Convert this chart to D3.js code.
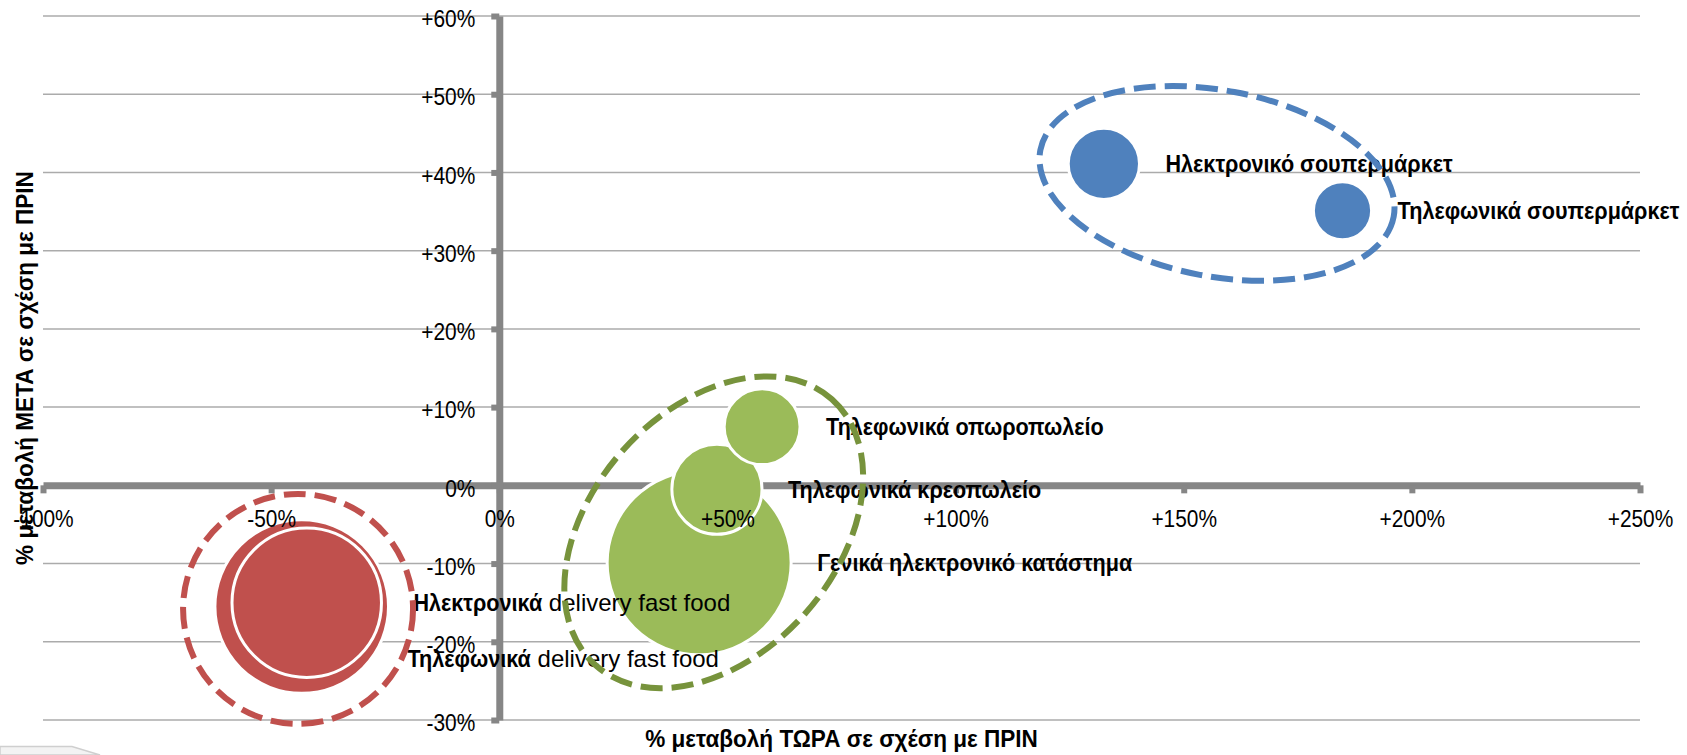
<!DOCTYPE html>
<html>
<head>
<meta charset="utf-8">
<script src="https://cdn.jsdelivr.net/npm/d3@7"></script>
<style>
  body { margin: 0; background: #fff; }
  svg text { font-family: "Liberation Sans", Arial, sans-serif; fill: #000; white-space: pre; }
</style>
</head>
<body>
<svg id="chart" width="1687" height="755"></svg>
<script>
// bubbles: % change NOW vs BEFORE (x), % change AFTER vs BEFORE (y), bubble size
let names = ["Ηλεκτρονικό σουπερμάρκετ", "Τηλεφωνικά σουπερμάρκετ", "Τηλεφωνικά οπωροπωλείο",
  "Τηλεφωνικά κρεοπωλείο", "Γενικά ηλεκτρονικό κατάστημα", "Τηλεφωνικά delivery fast food",
  "Ηλεκτρονικά delivery fast food"];
let xVals = [132.5, 184.8, 57.6, 47.7, 43.8, -43.3, -42.2];
let yVals = [41.1, 35.1, 7.5, -0.5, -9.9, -15.5, -15.0];
let sizes = [15, 10, 17, 24, 100, 89, 66];
let groups = ["blue", "blue", "green", "green", "green", "red", "red"];

// dashed rings round each group (centre in data units, semi axes in x units)
let ringGroups = ["blue", "green", "red"];
let ringX = [157.3, 47.0, -44.1];
let ringY = [38.6, -6.0, -15.8];
let ringA = [39.4, 39.0, 25.2];
let ringB = [20.4, 26.8, 25.2];
let ringTilt = [10.7, -48.4, 0];

let xTicks = [-100, -50, 0, 50, 100, 150, 200, 250];
let yTicks = [-30, -20, -10, 0, 10, 20, 30, 40, 50, 60];

let xTitle = "% μεταβολή ΤΩΡΑ σε σχέση με ΠΡΙΝ";
let yTitle = "% μεταβολή ΜΕΤΑ σε σχέση με ΠΡΙΝ";

// label nudges for the two delivery labels, moved by hand in the original
let labelShiftX = [0, 0, 0, 0, 0, -7, 6];
let labelShiftY = [0, 0, 0, 0, 0, 52, 0];

let fillColor = {blue: "#4F81BD", green: "#9BBB59", red: "#C0504D"};
let ringColor = {blue: "#4F81BD", green: "#77933C", red: "#C0504D"};
let axisColor = "#868686", gridColor = "#ababab";
// the original uses a narrow face; squeeze the wide one instead
let tickSqueeze = 0.87, labelSqueeze = 0.9, titleSqueeze = 0.94;

let svg = d3.select("#chart");

let x = d3.scaleLinear().domain([-100, 250]).range([43, 1640]);
let y = d3.scaleLinear().domain([-30, 60]).range([720, 16]);
let r = d3.scaleSqrt().domain([0, 100]).range([0, 92]);

let pct = d => (d > 0 ? "+" : "") + d + "%";

// faint tab in the lower left corner of the screenshot
svg.append("path")
  .attr("d", "M0,746.5 L72,746.5 L100,755 L0,755 Z")
  .attr("fill", "#f3f3f3")
  .attr("stroke", "#cfcfcf")
  .attr("stroke-width", 1.5);

// grid
svg.append("g").selectAll("line")
  .data(yTicks.filter(t => t !== 0))
  .enter().append("line")
  .attr("x1", x(-100)).attr("x2", x(250))
  .attr("y1", d => y(d)).attr("y2", d => y(d))
  .attr("stroke", gridColor)
  .attr("stroke-width", 1.5);

// axis lines and tick marks (under the bubbles)
let xAxisLines = svg.append("g")
  .attr("transform", `translate(0, ${y(0)})`)
  .call(d3.axisBottom(x).tickValues(xTicks).tickSize(8).tickSizeOuter(0).tickFormat(""));
let yAxisLines = svg.append("g")
  .attr("transform", `translate(${x(0)}, 0)`)
  .call(d3.axisLeft(y).tickValues(yTicks).tickSize(8).tickSizeOuter(0).tickFormat(""));
[xAxisLines, yAxisLines].forEach(g => {
  g.select(".domain").attr("stroke", axisColor).attr("stroke-width", 7);
  g.selectAll(".tick line").attr("stroke", axisColor).attr("stroke-width", 6);
});

// bubbles, biggest first
let pts = names.map((n, i) => ({name: n, x: xVals[i], y: yVals[i], s: sizes[i], g: groups[i], i: i}));
let order = pts.slice().sort((a, b) => b.s - a.s);

svg.append("g").selectAll("circle")
  .data(order)
  .enter().append("circle")
  .attr("cx", d => x(d.x))
  .attr("cy", d => y(d.y))
  .attr("r", d => r(d.s))
  .attr("fill", d => fillColor[d.g])
  .attr("stroke", "#fff")
  .attr("stroke-width", 3);

// tick labels (on top of bubbles)
let xAxisText = svg.append("g")
  .attr("transform", `translate(0, ${y(0)})`)
  .call(d3.axisBottom(x).tickValues(xTicks).tickSize(0).tickPadding(25).tickFormat(pct));
let yAxisText = svg.append("g")
  .attr("transform", `translate(${x(0)}, 3)`)
  .call(d3.axisLeft(y).tickValues(yTicks).tickSize(0).tickPadding(24).tickFormat(pct));
[xAxisText, yAxisText].forEach(g => {
  g.select(".domain").remove();
  g.selectAll("text")
    .attr("font-family", null)
    .style("font-size", "24px")
    .attr("fill", "#000")
    .attr("x", function() { return (+d3.select(this).attr("x") || 0) / tickSqueeze; })
    .attr("transform", `scale(${tickSqueeze}, 1)`);
});

// data labels: greek words bold and narrow, latin words normal and wider
let lab = svg.append("g").selectAll("g")
  .data(pts)
  .enter().append("g")
  .attr("transform", d => `translate(${x(d.x) + r(d.s) + 26 + labelShiftX[d.i]}, ${y(d.y) + labelShiftY[d.i]})`);
lab.each(function(d) {
  let g = d3.select(this);
  let runs = [];
  d.name.split(" ").forEach((w, k) => {
    let bold = !/[A-Za-z]/.test(w);
    let piece = (k ? " " : "") + w;
    if (runs.length && runs[runs.length - 1].bold === bold) runs[runs.length - 1].text += piece;
    else runs.push({bold: bold, text: piece});
  });
  let offset = 0;
  runs.forEach(run => {
    let k = run.bold ? labelSqueeze : 1;
    let t = g.append("text")
      .attr("transform", `translate(${offset}, 0) scale(${k}, 1)`)
      .attr("dy", "0.35em")
      .attr("font-weight", run.bold ? "bold" : "normal")
      .style("font-size", "24px")
      .text(run.text);
    offset += t.node().getComputedTextLength() * k;
  });
});

// axis titles
svg.append("text")
  .attr("transform", `translate(${(x(-100) + x(250)) / 2}, 747) scale(${titleSqueeze}, 1)`)
  .attr("text-anchor", "middle")
  .attr("font-weight", "bold")
  .style("font-size", "24px")
  .text(xTitle);

svg.append("text")
  .attr("transform", `translate(33, ${(y(-30) + y(60)) / 2}) rotate(-90) scale(${titleSqueeze}, 1)`)
  .attr("text-anchor", "middle")
  .attr("font-weight", "bold")
  .style("font-size", "24px")
  .text(yTitle);

// dashed rings drawn last, they run over the labels
let kx = x(1) - x(0);
svg.append("g").selectAll("ellipse")
  .data(ringGroups)
  .enter().append("ellipse")
  .attr("transform", (d, i) => `translate(${x(ringX[i])}, ${y(ringY[i])}) rotate(${ringTilt[i]})`)
  .attr("rx", (d, i) => ringA[i] * kx)
  .attr("ry", (d, i) => ringB[i] * kx)
  .attr("fill", "none")
  .attr("stroke", d => ringColor[d])
  .attr("stroke-width", 6)
  .attr("stroke-dasharray", "22 9");
</script>
</body>
</html>
